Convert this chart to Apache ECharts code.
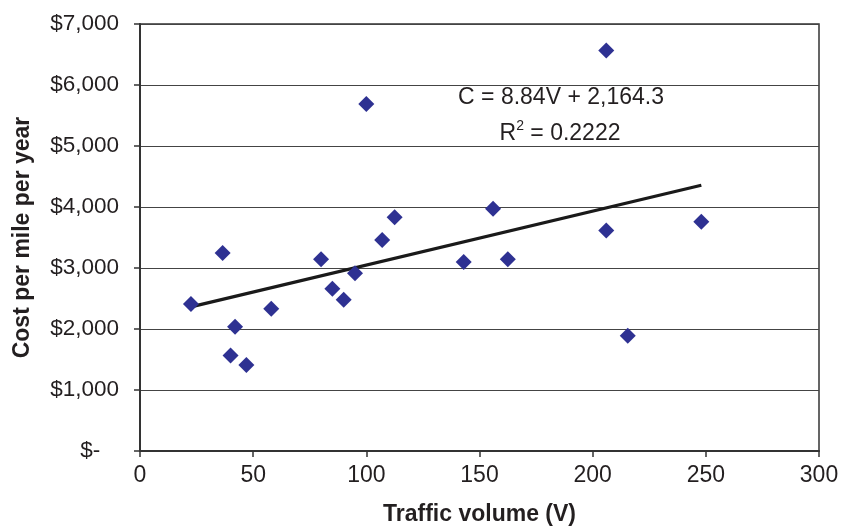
<!DOCTYPE html>
<html>
<head>
<meta charset="utf-8">
<script src="https://cdn.jsdelivr.net/npm/echarts@6/dist/echarts.min.js"></script>
<style>
  html, body { margin: 0; padding: 0; background: #fff; }
  #chart { width: 841px; height: 528px; }
</style>
</head>
<body>
<div id="chart"></div>
<script>
// traffic volume (V) and cost per mile per year
var volume = [22.5, 36.5, 40, 42, 47, 58, 80, 85, 90, 95, 100, 107, 112.5, 143, 156, 162.5, 206, 206, 215.5, 248]
var cost = [2410, 3245, 1565, 2035, 1410, 2330, 3145, 2660, 2480, 2915, 5690, 3460, 3830, 3100, 3970, 3145, 6565, 3615, 1890, 3760]

// fitted line end points
var trendX = [22.5, 248]
var trendY = [2363, 4356]

var eqText = 'C = 8.84V + 2,164.3'
var r2Text = '0.2222'

var points = []
for (var i = 0; i < volume.length; i++) {
  points.push([volume[i], cost[i]])
}
var trend = []
for (var j = 0; j < trendX.length; j++) {
  trend.push([trendX[j], trendY[j]])
}

var textColor = '#231f20'
var font = 'Liberation Sans, Arial, sans-serif'

var myChart = echarts.init(document.getElementById('chart'))
var option = {
  animation: false,
  grid: {
    left: 140,
    right: 22,
    top: 24,
    bottom: 77,
    outerBoundsMode: 'none',
    containLabel: false,
    show: true,
    borderColor: '#333',
    borderWidth: 1.5
  },
  xAxis: {
    type: 'value',
    min: 0,
    max: 300,
    interval: 50,
    name: 'Traffic volume (V)',
    nameLocation: 'middle',
    nameGap: 52,
    nameTextStyle: { color: textColor, fontSize: 23, fontWeight: 'bold', fontFamily: font },
    axisLine: { show: true, lineStyle: { color: '#333', width: 2 } },
    axisTick: { show: true, length: 6, lineStyle: { color: '#333', width: 1.5 } },
    axisLabel: { color: textColor, fontSize: 23, fontFamily: font, margin: 13 },
    splitLine: { show: false }
  },
  yAxis: {
    type: 'value',
    min: 0,
    max: 7000,
    interval: 1000,
    name: 'Cost per mile per year',
    nameLocation: 'middle',
    nameGap: 106,
    nameRotate: 90,
    nameTextStyle: { color: textColor, fontSize: 23, fontWeight: 'bold', fontFamily: font },
    axisLine: { show: true, lineStyle: { color: '#333', width: 2 } },
    axisTick: { show: true, length: 6, lineStyle: { color: '#333', width: 1.5 } },
    axisLabel: {
      color: textColor,
      fontSize: 22.5,
      fontFamily: font,
      margin: 21,
      formatter: function (value) {
        if (value === 0) return '$-   '
        return '$' + value.toLocaleString('en-US')
      }
    },
    splitLine: { show: true, lineStyle: { color: '#444', width: 1.2 } }
  },
  graphic: [
    {
      type: 'text',
      x: 561,
      y: 98,
      style: {
        text: eqText,
        fill: textColor,
        font: '23px ' + font,
        align: 'center',
        verticalAlign: 'middle'
      }
    },
    {
      type: 'text',
      x: 560,
      y: 132,
      style: {
        text: '{a|R}{s|2}{a| = ' + r2Text + '}',
        align: 'center',
        verticalAlign: 'middle',
        rich: {
          a: { fill: textColor, fontSize: 23, fontFamily: font, verticalAlign: 'bottom' },
          s: { fill: textColor, fontSize: 14, fontFamily: font, verticalAlign: 'top', padding: [0, 0, 12, 0] }
        }
      }
    }
  ],
  series: [
    {
      type: 'line',
      data: trend,
      symbol: 'none',
      lineStyle: { color: '#1a1a1a', width: 3.2 },
      z: 2
    },
    {
      type: 'scatter',
      data: points,
      symbol: 'diamond',
      symbolSize: 16,
      itemStyle: { color: '#2e3192', opacity: 1 },
      z: 3
    }
  ]
}
myChart.setOption(option)
</script>
</body>
</html>
